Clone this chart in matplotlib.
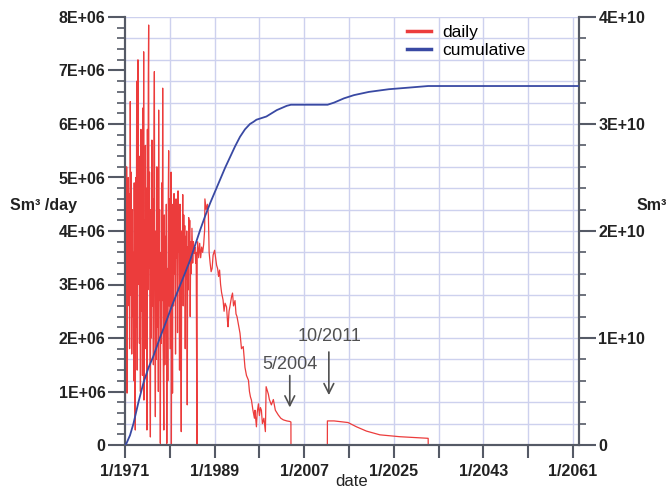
import matplotlib
matplotlib.use("Agg")
import matplotlib.pyplot as plt
import numpy as np

plt.rcParams['font.family'] = ['Liberation Sans', 'DejaVu Sans']

# ---- data (daily in 1E+06 Sm3/day, cumulative in 1E+10 Sm3) ----
daily_year = [
    1971.00, 1971.08, 1971.17, 1971.25, 1971.33, 1971.42, 1971.50, 1971.58, 1971.67, 1971.75,
    1971.83, 1971.92, 1972.00, 1972.06, 1972.15, 1972.25, 1972.35, 1972.45, 1972.55, 1972.65,
    1972.75, 1972.85, 1972.95, 1973.07, 1973.15, 1973.25, 1973.35, 1973.45, 1973.60, 1973.70,
    1973.80, 1973.90, 1974.00, 1974.10, 1974.20, 1974.30, 1974.40, 1974.50, 1974.60, 1974.70,
    1974.75, 1974.80, 1974.90, 1975.00, 1975.10, 1975.20, 1975.30, 1975.40, 1975.50, 1975.60,
    1975.68, 1975.75, 1975.82, 1975.92, 1976.00, 1976.10, 1976.20, 1976.30, 1976.40, 1976.50,
    1976.60, 1976.70, 1976.80, 1976.90, 1977.00, 1977.10, 1977.20, 1977.30, 1977.40, 1977.50,
    1977.60, 1977.70, 1977.76, 1977.85, 1977.95, 1978.05, 1978.10, 1978.20, 1978.30, 1978.40,
    1978.50, 1978.57, 1978.65, 1978.80, 1978.90, 1979.00, 1979.10, 1979.20, 1979.30, 1979.40,
    1979.50, 1979.60, 1979.70, 1979.77, 1979.85, 1979.95, 1980.05, 1980.15, 1980.25, 1980.32,
    1980.42, 1980.55, 1980.65, 1980.75, 1980.85, 1980.95, 1981.05, 1981.15, 1981.25, 1981.35,
    1981.45, 1981.55, 1981.65, 1981.75, 1981.85, 1981.95, 1982.05, 1982.15, 1982.30, 1982.40,
    1982.50, 1982.60, 1982.70, 1982.80, 1982.90, 1983.00, 1983.10, 1983.20, 1983.30, 1983.40,
    1983.50, 1983.60, 1983.70, 1983.80, 1983.90, 1984.00, 1984.10, 1984.20, 1984.30, 1984.45,
    1984.60, 1984.75, 1984.90, 1985.05, 1985.20, 1985.30, 1985.45, 1985.50, 1985.60, 1985.80,
    1986.00, 1986.20, 1986.40, 1986.60, 1986.80, 1987.00, 1987.05, 1987.30, 1987.55, 1987.75,
    1987.90, 1988.10, 1988.30, 1988.50, 1988.70, 1989.00, 1989.20, 1989.40, 1989.60, 1989.80,
    1990.00, 1990.20, 1990.40, 1990.70, 1990.90, 1991.10, 1991.40, 1991.60, 1991.70, 1991.90,
    1992.10, 1992.40, 1992.60, 1992.80, 1993.10, 1993.30, 1993.50, 1993.70, 1994.10, 1994.40,
    1994.75, 1995.10, 1995.40, 1995.80, 1996.00, 1996.20, 1996.40, 1996.70, 1997.00, 1997.10,
    1997.40, 1997.55, 1997.80, 1998.00, 1998.20, 1998.40, 1998.60, 1998.90, 1999.20, 1999.35,
    1999.80, 2000.00, 2000.40, 2000.80, 2001.20, 2001.80, 2002.30, 2002.80, 2003.50, 2004.10,
    2004.33, 2004.34, 2011.65, 2011.66, 2013.00, 2015.80, 2017.50, 2019.50, 2022.20, 2026.20,
    2029.00, 2031.90, 2031.91, 2062.20,
]
daily_mm3 = [
    1.55, 0.75, 2.90, 1.60, 5.20, 0.97, 4.60, 2.60, 5.00, 3.00,
    4.70, 1.80, 3.50, 6.42, 2.80, 5.10, 1.70, 4.40, 2.40, 3.60,
    1.20, 4.90, 0.90, 0.28, 5.00, 2.20, 6.80, 1.40, 7.20, 3.00,
    5.40, 1.90, 4.50, 1.00, 5.90, 2.50, 4.00, 1.30, 6.30, 3.50,
    7.35, 0.84, 4.20, 2.30, 5.60, 1.80, 4.80, 0.28, 5.90, 2.90,
    6.80, 7.85, 3.30, 5.10, 2.00, 0.15, 4.40, 2.00, 5.70, 2.60,
    4.60, 1.50, 5.30, 6.98, 2.40, 0.53, 4.00, 1.60, 5.20, 2.20,
    4.30, 1.00, 6.26, 2.70, 4.40, 1.30, 0.03, 3.60, 1.90, 4.90,
    2.70, 6.67, 2.00, 0.28, 4.30, 1.50, 3.90, 2.10, 4.50, 0.03,
    3.30, 1.20, 4.70, 5.50, 2.60, 4.60, 1.80, 3.40, 5.10, 0.02,
    4.00, 0.97, 4.50, 2.60, 4.70, 3.20, 4.30, 1.70, 4.60, 3.50,
    4.40, 2.10, 4.75, 3.60, 4.20, 1.40, 4.50, 3.00, 0.25, 4.00,
    3.30, 4.68, 2.60, 4.30, 3.20, 4.10, 1.80, 3.90, 3.10, 4.00,
    0.75, 3.70, 2.90, 4.25, 3.40, 4.20, 2.40, 3.80, 3.20, 4.05,
    3.40, 3.80, 3.58, 3.70, 3.40, 3.60, 0.02, 3.55, 3.80, 3.50,
    3.77, 3.50, 3.70, 3.60, 3.75, 4.02, 4.60, 4.40, 4.50, 4.30,
    3.60, 3.40, 3.24, 3.30, 3.55, 3.64, 3.50, 3.36, 3.30, 3.15,
    3.27, 3.00, 2.85, 2.71, 2.50, 2.65, 2.58, 2.30, 2.21, 2.50,
    2.60, 2.77, 2.84, 2.60, 2.70, 2.45, 2.40, 2.30, 2.09, 1.80,
    1.84, 1.45, 1.30, 1.21, 1.00, 0.90, 0.84, 0.65, 0.50, 0.65,
    0.34, 0.60, 0.77, 0.55, 0.70, 0.65, 0.40, 0.50, 0.25, 1.09,
    0.95, 0.85, 0.75, 0.85, 0.65, 0.56, 0.50, 0.47, 0.45, 0.44,
    0.43, 0.00, 0.00, 0.45, 0.45, 0.42, 0.34, 0.26, 0.19, 0.155,
    0.14, 0.125, 0.00, 0.00,
]

cum_year = [
    1971.0, 1971.3, 1972.0, 1972.7, 1973.7, 1974.7, 1975.7, 1976.7, 1978.0, 1979.4,
    1980.5, 1981.7, 1983.0, 1984.1, 1985.1, 1986.1, 1987.1, 1988.1, 1989.1, 1990.1,
    1991.1, 1992.1, 1993.1, 1994.1, 1995.1, 1996.1, 1996.8, 1997.4, 1999.4, 2001.5,
    2003.5, 2004.33, 2011.7, 2013.0, 2015.0, 2017.0, 2020.0, 2024.0, 2028.0, 2031.9,
    2062.2,
]
cum_e10 = [
    0.00, 0.016, 0.09, 0.20, 0.40, 0.58, 0.72, 0.83, 1.00, 1.17,
    1.31, 1.45, 1.60, 1.73, 1.87, 2.01, 2.14, 2.26, 2.37, 2.48,
    2.59, 2.69, 2.79, 2.88, 2.95, 3.00, 3.02, 3.04, 3.07, 3.13,
    3.17, 3.18, 3.18, 3.20, 3.24, 3.27, 3.30, 3.325, 3.34, 3.355,
    3.355,
]

x_ticks = [1971, 1980, 1989, 1998, 2007, 2016, 2025, 2034, 2043, 2052, 2061]
x_ticklabels = ['1/1971', '', '1/1989', '', '1/2007', '', '1/2025', '', '1/2043', '', '1/2061']
left_ticks = [0, 1, 2, 3, 4, 5, 6, 7, 8]
left_ticklabels = ['0', '1E+06', '2E+06', '3E+06', '4E+06', '5E+06', '6E+06', '7E+06', '8E+06']
right_ticks = [0, 1, 2, 3, 4]
right_ticklabels = ['0', '1E+10', '2E+10', '3E+10', '4E+10']

# ---- figure ----
W, H = 671, 490
fig = plt.figure(figsize=(W / 100, H / 100), dpi=100)
ax = fig.add_axes([125 / W, 1 - 445 / H, (579 - 125) / W, (445 - 17) / H])
ax2 = ax.twinx()

grid_c = '#cdd1ee'
spine_c = '#555a66'
for gx in np.arange(1980, 2062, 9):
    ax.axvline(gx, color=grid_c, lw=1.0, zorder=0)
for gy in np.arange(0.4, 8.01, 0.4):
    ax.axhline(gy, color=grid_c, lw=1.0, zorder=0)

red = '#ec3c3c'
blue = '#3949a3'
l1, = ax.plot(daily_year, daily_mm3, color=red, lw=0.9, label='daily', zorder=3)
l2, = ax2.plot(cum_year, cum_e10, color=blue, lw=1.3, label='cumulative', zorder=3)

ax.set_xlim(1971, 2062.2)
ax.set_ylim(0, 8)
ax2.set_ylim(0, 4)

ax.set_xticks(x_ticks)
ax.set_xticklabels(x_ticklabels)
ax.set_yticks(left_ticks)
ax.set_yticklabels(left_ticklabels)
ax.set_yticks(np.arange(0, 8.01, 0.2), minor=True)
ax2.set_yticks(right_ticks)
ax2.set_yticklabels(right_ticklabels)
ax2.set_yticks(np.arange(0, 4.01, 0.2), minor=True)

for a in (ax, ax2):
    for s in a.spines.values():
        s.set_color(spine_c)
        s.set_linewidth(1.5)
    a.spines['top'].set_visible(False)

ax.tick_params(axis='x', direction='out', length=9, width=1.5, color=spine_c, pad=5)
ax.tick_params(axis='y', which='major', direction='out', length=12, width=1.5, color=spine_c, pad=2)
ax.tick_params(axis='y', which='minor', direction='out', length=6, width=1.2, color=spine_c)
ax2.tick_params(axis='y', which='major', direction='out', length=12, width=1.5, color=spine_c, pad=2)
ax2.tick_params(axis='y', which='minor', direction='out', length=5, width=1.2, color=spine_c)
for lab in ax.get_xticklabels() + ax.get_yticklabels() + ax2.get_yticklabels():
    lab.set_fontsize(11.5)
    lab.set_fontweight('bold')
    lab.set_color('#222222')

# annotations
ann_c = '#505050'
ax.annotate('', xy=(2004.1, 0.65), xytext=(2004.1, 1.35),
            arrowprops=dict(arrowstyle='->,head_length=0.7,head_width=0.35', color=ann_c, lw=1.2))
ax.text(2004.2, 1.51, '5/2004', ha='center', va='center', fontsize=13, color=ann_c)
ax.annotate('', xy=(2011.95, 0.88), xytext=(2011.95, 1.79),
            arrowprops=dict(arrowstyle='->,head_length=0.7,head_width=0.35', color=ann_c, lw=1.2))
ax.text(2012.05, 2.02, '10/2011', ha='center', va='center', fontsize=13, color=ann_c)

# legend
fig.legend(handles=[l1, l2], labels=['daily', 'cumulative'], loc='upper left',
           bbox_to_anchor=(395 / W, 1 - 13 / H), frameon=False, fontsize=12.5,
           handlelength=1.4, handletextpad=0.6, labelspacing=0.15, borderpad=0.2)
for h in fig.legends[0].get_lines():
    h.set_linewidth(2.5)

# axis labels
fig.text(10 / W, 1 - 205 / H, 'Sm\u00b3 /day', ha='left', va='center', fontsize=11.5,
         fontweight='bold', color='#222222')
fig.text(637 / W, 1 - 205 / H, 'Sm\u00b3', ha='left', va='center', fontsize=11.5,
         fontweight='bold', color='#222222')
fig.text(352 / W, 1 - 481 / H, 'date', ha='center', va='center', fontsize=12,
         color='#222222')

fig.savefig('out.png', dpi=100)
